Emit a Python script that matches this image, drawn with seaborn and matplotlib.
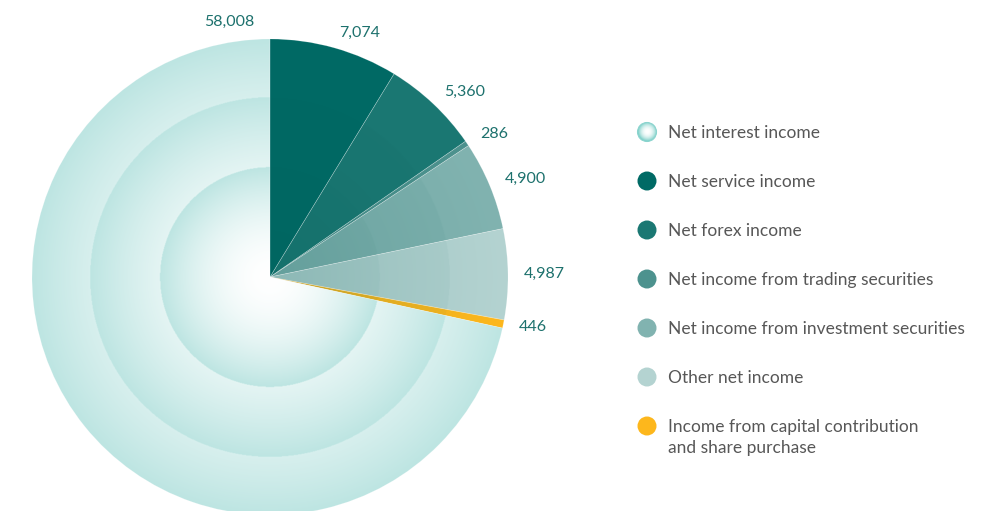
import numpy as np
import matplotlib
matplotlib.use("Agg")
import matplotlib.pyplot as plt
from matplotlib.patches import Circle
from matplotlib.colors import to_rgb
import seaborn as sns

# Operating income breakdown
categories = [
    "Net interest income",
    "Net service income",
    "Net forex income",
    "Net income from trading securities",
    "Net income from investment securities",
    "Other net income",
    "Income from capital contribution\nand share purchase",
]
values = [58008, 7074, 5360, 286, 4900, 4987, 446]
value_labels = ["58,008", "7,074", "5,360", "286", "4,900", "4,987", "446"]
colors = ["#BDE5E2", "#006A65", "#1B7873", "#4D928E", "#81B3B0", "#B4D3D1", "#FDB71C"]

sns.set_theme(style="white")
plt.rcParams["font.family"] = ["Lato", "DejaVu Sans"]

W, H = 983, 511
fig = plt.figure(figsize=(W / 100, H / 100), dpi=100)
ax = fig.add_axes([0, 0, 1, 1])

cx, cy, R = 270, H - 277, 238
ring_radii = [238, 180, 110]
label_color = "#1D716D"
text_color = "#575757"

# pie order: clockwise from the top, the large interest slice closes the circle
order = list(range(1, len(values))) + [0]
palette = sns.color_palette(colors)
wedges, _ = ax.pie(
    [values[i] for i in order],
    colors=[palette[i] for i in order],
    startangle=90, counterclock=False,
    center=(cx, cy), radius=R,
    wedgeprops=dict(linewidth=0.5, edgecolor=(1, 1, 1, 0.22)),
)

# radial shading grid
n = 800
xs = np.linspace(cx - R, cx + R, n)
ys = np.linspace(cy - R, cy + R, n)
X, Y = np.meshgrid(xs, ys)
rr = np.hypot(X - cx, Y - cy)
outer = np.full_like(rr, ring_radii[0], dtype=float)
steps = np.zeros_like(rr)
for rad in ring_radii[1:]:
    inside = rr < rad
    outer[inside] = rad
    steps[inside] += 1
t = np.clip(rr / outer, 0, 1)
extent = (cx - R, cx + R, cy - R, cy + R)

white = np.ones(3)
dark = np.array(to_rgb("#005A55"))


def ring_gradient(edge):
    edge = np.array(to_rgb(edge))
    g = (t ** 1.8)[..., None]
    return np.clip(white + (edge - white) * g, 0, 1)


def wedge_shading(base):
    base = np.array(to_rgb(base))
    d = (0.045 * steps + 0.10 * (1 - np.clip(rr / R, 0, 1)) + 0.03 * (1 - t))[..., None]
    return np.clip(base * (1 - d) + dark * d, 0, 1)


for w, idx in zip(wedges, order):
    img = ring_gradient(colors[0]) if idx == 0 else wedge_shading(colors[idx])
    im = ax.imshow(img, extent=extent, origin="lower", interpolation="bilinear", zorder=1)
    im.set_clip_path(w)
    w.set_facecolor("none")
    w.set_zorder(2)

# value labels
for w, idx in zip(wedges, order):
    if idx == 0:
        ang = np.deg2rad(w.theta1 + 9)
        r_lab, ha = 258, "center"
    else:
        ang = np.deg2rad((w.theta1 + w.theta2) / 2)
        r_lab, ha = 254, "left"
    ax.text(cx + r_lab * np.cos(ang), cy + r_lab * np.sin(ang), value_labels[idx],
            ha=ha, va="center", fontsize=11.5, color=label_color, zorder=5)

# legend
leg_x, leg_text_x = 647, 668
row_y0, row_step = 132, 49
line_px = 21
mr = 9.5
for i, cat in enumerate(categories):
    y = H - (row_y0 + i * row_step)
    if i == 0:
        m = 60
        lx = np.linspace(-1, 1, m)
        LX, LY = np.meshgrid(lx, lx)
        lt = np.clip(np.hypot(LX, LY), 0, 1)[..., None]
        edge = np.array(to_rgb("#7FD0C9"))
        limg = np.clip(white + (edge - white) * lt ** 2.2, 0, 1)
        circ = Circle((leg_x, y), mr, facecolor="none", edgecolor="#8AD4CE", lw=0.8, zorder=4)
        ax.add_patch(circ)
        li = ax.imshow(limg, extent=(leg_x - mr, leg_x + mr, y - mr, y + mr),
                       origin="lower", interpolation="bilinear", zorder=3)
        li.set_clip_path(circ)
    else:
        ax.add_patch(Circle((leg_x, y), mr, facecolor=colors[i], edgecolor="none", zorder=3))
    # each line of the category name sits on its own baseline
    for j, line in enumerate(cat.split("\n")):
        ax.text(leg_text_x, y - 5.5 - j * line_px, line, ha="left", va="baseline",
                fontsize=12.5, color=text_color, zorder=5)

ax.set_xlim(0, W)
ax.set_ylim(0, H)
ax.set_aspect("equal")
ax.axis("off")

fig.savefig("out.png", dpi=100, facecolor="white")
